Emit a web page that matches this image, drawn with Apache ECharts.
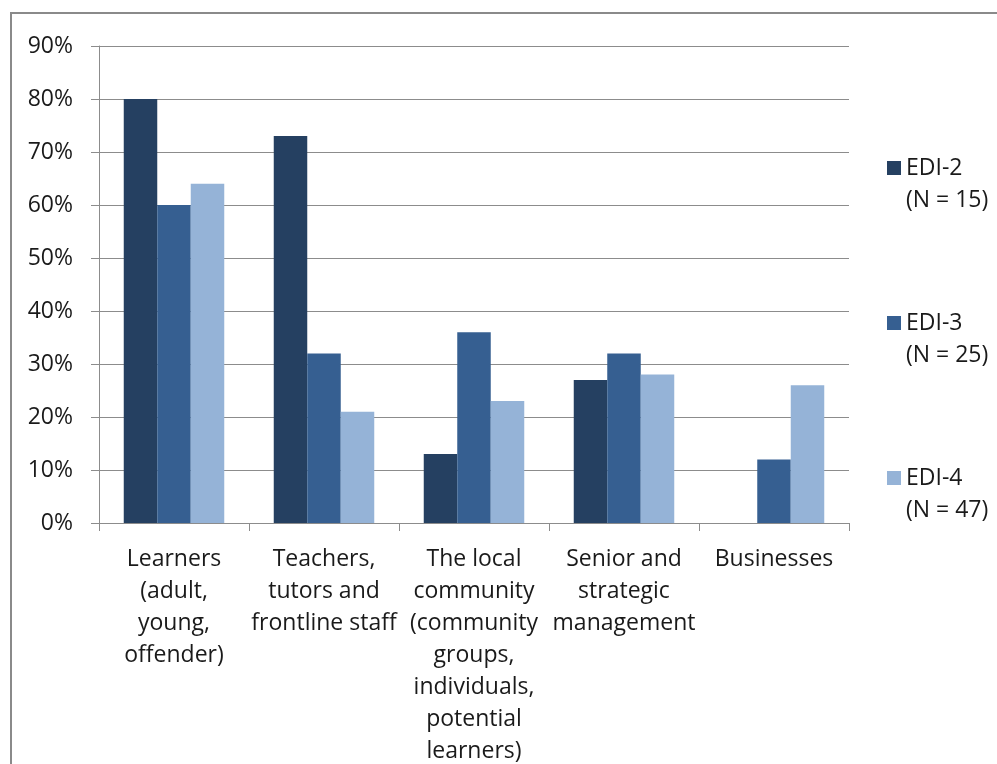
<!DOCTYPE html>
<html>
<head>
<meta charset="utf-8">
<script src="https://cdn.jsdelivr.net/npm/echarts@6/dist/echarts.min.js"></script>
<style>
  html, body { margin: 0; padding: 0; background: #fff; }
  #chart { width: 997px; height: 764px; }
</style>
</head>
<body>
<div id="chart"></div>
<script>
// Stakeholder groups on the category axis
const categories = [
  'Learners\n(adult,\nyoung,\noffender)',
  'Teachers,\ntutors and\nfrontline staff',
  'The local\ncommunity\n(community\ngroups,\nindividuals,\npotential\nlearners)',
  'Senior and\nstrategic\nmanagement',
  'Businesses'
];

// Share of respondents (%) per cohort
const edi2 = [80, 73, 13, 27, 0];
const edi3 = [60, 32, 36, 32, 12];
const edi4 = [64, 21, 23, 28, 26];

const seriesNames = ['EDI-2', 'EDI-3', 'EDI-4'];
const legendLabels = {
  'EDI-2': '(N = 15)',
  'EDI-3': '(N = 25)',
  'EDI-4': '(N = 47)'
};

const yTicks = { min: 0, max: 90, step: 10 };

const FONT = 'Open Sans';
const FONT_SIZE = 23;
const TEXT = '#1a1a1a';
const GRID_GRAY = '#8c8c8c';

const chart = echarts.init(document.getElementById('chart'), null, { renderer: 'canvas' });

const bar = (name, data, color) => ({
  name,
  type: 'bar',
  data,
  barGap: '0%',
  barCategoryGap: '33%',
  itemStyle: { color },
  emphasis: { disabled: true }
});

chart.setOption({
  animation: false,
  backgroundColor: '#ffffff',
  textStyle: { fontFamily: FONT },
  graphic: [{
    type: 'rect',
    shape: { x: 11, y: 13, width: 1000, height: 800 },
    style: { fill: 'none', stroke: '#8a8a8a', lineWidth: 2 },
    silent: true
  }],
  grid: {
    left: 99, right: 148, top: 46, bottom: 241,
    containLabel: false,
    outerBoundsMode: 'none'
  },
  legend: {
    orient: 'vertical',
    left: 882,
    top: 115,
    itemWidth: 14,
    itemHeight: 14,
    itemGap: 59,
    icon: 'rect',
    selectedMode: false,
    data: seriesNames,
    formatter: n => '\n' + n + '\n' + legendLabels[n],
    textStyle: { fontFamily: FONT, fontSize: FONT_SIZE, color: TEXT, lineHeight: 32 }
  },
  xAxis: {
    type: 'category',
    data: categories,
    axisLine: { lineStyle: { color: GRID_GRAY, width: 1 } },
    axisTick: { show: true, length: 8, lineStyle: { color: GRID_GRAY } },
    axisLabel: {
      interval: 0,
      margin: 20,
      fontFamily: FONT,
      fontSize: FONT_SIZE,
      lineHeight: 32,
      color: TEXT,
      align: 'center'
    }
  },
  yAxis: {
    type: 'value',
    min: yTicks.min,
    max: yTicks.max,
    interval: yTicks.step,
    axisLine: { show: true, lineStyle: { color: GRID_GRAY, width: 1 } },
    axisTick: { show: true, length: 8, lineStyle: { color: GRID_GRAY } },
    splitLine: { lineStyle: { color: GRID_GRAY, width: 1 } },
    axisLabel: {
      formatter: '{value}%',
      margin: 26,
      fontFamily: FONT,
      fontSize: FONT_SIZE,
      color: TEXT
    }
  },
  series: [
    bar(seriesNames[0], edi2, '#254061'),
    bar(seriesNames[1], edi3, '#365f91'),
    bar(seriesNames[2], edi4, '#95b3d7')
  ]
});
</script>
</body>
</html>
